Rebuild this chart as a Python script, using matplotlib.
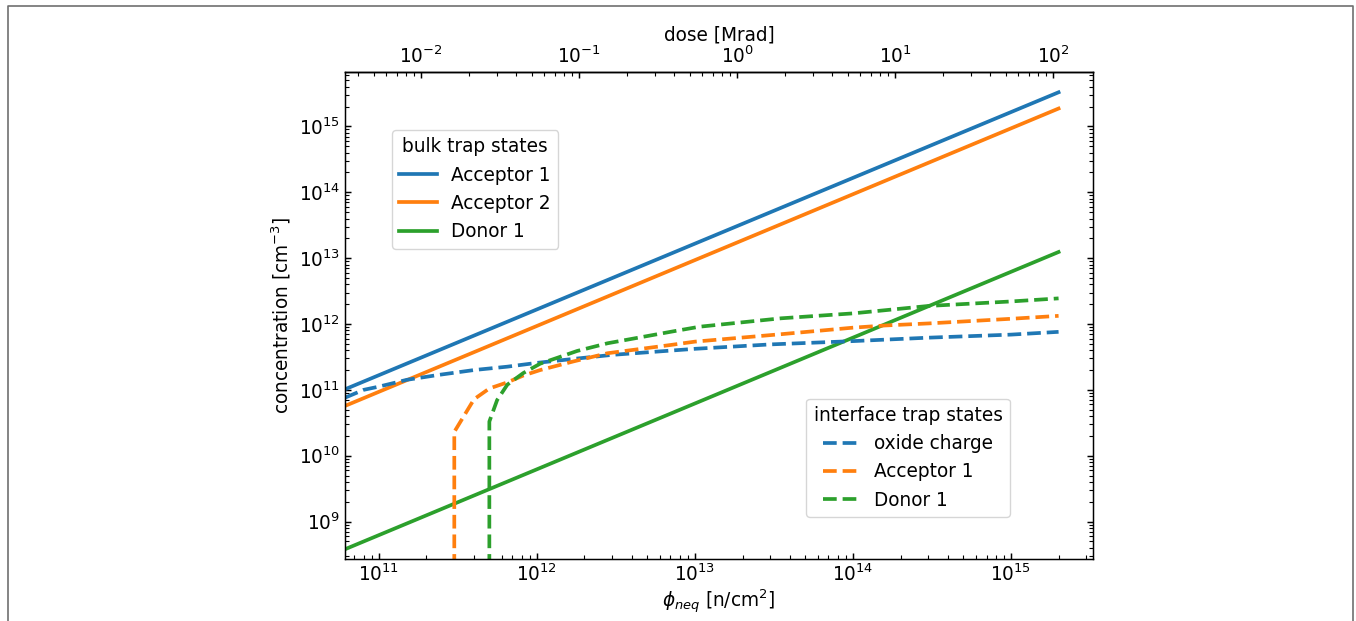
#!/usr/bin/env python3
# -*- coding: utf-8 -*-
""" Bulk and interface trap concentrations versus fluence / dose. """
from __future__ import annotations

import matplotlib

matplotlib.use("Agg")
import matplotlib.pyplot as plt
from matplotlib.lines import Line2D

# fluence phi_neq [n/cm^2] -> dose [Mrad]
PHI_PER_MRAD = 1.85e13

# bulk trap states (straight lines in log-log, read at both ends)
phi_bulk = [6.1e10, 2.0e15]
bulk_acceptor1 = [1.02e11, 3.3e15]
bulk_acceptor2 = [5.7e10, 1.87e15]
bulk_donor1 = [3.8e8, 1.24e13]

# interface trap states
phi_oxide = [6.1e10, 8e10, 1e11, 1.5e11, 2.4e11, 4e11, 6.5e11, 1e12, 1.7e12, 3e12,
             1e13, 3e13, 1e14, 3e14, 1e15, 2e15]
oxide_charge = [7.6e10, 1.0e11, 1.12e11, 1.42e11, 1.69e11, 2.0e11, 2.25e11, 2.57e11,
                2.95e11, 3.4e11, 4.2e11, 4.9e11, 5.5e11, 6.2e11, 6.9e11, 7.6e11]

phi_if_acceptor = [3e11, 3e11, 4e11, 5e11, 6.5e11, 8.2e11, 1.05e12, 1.7e12, 2.8e12,
                   7e12, 1e13, 3.5e13, 1e14, 1.6e14, 3e14, 1e15, 2e15]
if_acceptor1 = [1e8, 2.3e10, 7.2e10, 1.05e11, 1.3e11, 1.65e11, 2.0e11, 2.7e11, 3.6e11,
                4.8e11, 5.4e11, 7.0e11, 8.8e11, 9.5e11, 1.02e12, 1.2e12, 1.33e12]

phi_if_donor = [5e11, 5e11, 5.6e11, 6.5e11, 8.2e11, 1.05e12, 1.8e12, 2.8e12, 7.2e12,
                1.07e13, 3.5e13, 1e14, 3e14, 1e15, 2e15]
if_donor1 = [1e8, 3.3e10, 7e10, 1.2e11, 1.8e11, 2.5e11, 3.9e11, 5.1e11, 7.7e11,
             9.1e11, 1.22e12, 1.45e12, 1.88e12, 2.2e12, 2.45e12]

X_LIMITS = (6.1e10, 3.3e15)
Y_LIMITS = (2.7e8, 6.7e15)


def phi_to_dose(phi):
    return phi / PHI_PER_MRAD


def dose_to_phi(dose):
    return dose * PHI_PER_MRAD


def main() -> int:
    scale = 4.0 / 3.0
    plt.rcParams.update({
        "font.size": 10 * scale,
        "axes.linewidth": 0.8 * scale,
        "xtick.major.size": 3.5 * scale,
        "ytick.major.size": 3.5 * scale,
        "xtick.minor.size": 2.0 * scale,
        "ytick.minor.size": 2.0 * scale,
        "xtick.major.width": 0.8 * scale,
        "ytick.major.width": 0.8 * scale,
        "xtick.minor.width": 0.6 * scale,
        "ytick.minor.width": 0.6 * scale,
        "lines.linewidth": 2.0 * scale,
        "legend.framealpha": 0.8,
    })

    fig = plt.figure(figsize=(13.56, 6.21), dpi=100)
    ax = fig.add_axes([0.2544, 0.0998, 0.5516, 0.7842])

    solid = []
    solid += ax.plot(phi_bulk, bulk_acceptor1, color="C0", label="Acceptor 1")
    solid += ax.plot(phi_bulk, bulk_acceptor2, color="C1", label="Acceptor 2")
    solid += ax.plot(phi_bulk, bulk_donor1, color="C2", label="Donor 1")

    dashed = []
    dashed += ax.plot(phi_oxide, oxide_charge, "--", color="C0", label="oxide charge")
    dashed += ax.plot(phi_if_acceptor, if_acceptor1, "--", color="C1", label="Acceptor 1")
    dashed += ax.plot(phi_if_donor, if_donor1, "--", color="C2", label="Donor 1")

    ax.set_xscale("log")
    ax.set_yscale("log")
    ax.set_xlim(*X_LIMITS)
    ax.set_ylim(*Y_LIMITS)
    ax.set_xlabel(r"$\phi_{neq}$ [n/cm$^2$]", labelpad=2)
    ax.set_ylabel(r"concentration [cm$^{-3}$]")
    ax.tick_params(which="both", direction="in", right=True, top=False)

    top = ax.secondary_xaxis("top", functions=(phi_to_dose, dose_to_phi))
    top.set_xlabel("dose [Mrad]")
    top.tick_params(which="both", direction="in")

    first = ax.legend(handles=solid, title="bulk trap states", loc="upper left",
                      bbox_to_anchor=(0.063, 0.881), borderaxespad=0)
    ax.add_artist(first)
    ax.legend(handles=dashed, title="interface trap states", loc="lower right",
              bbox_to_anchor=(0.889, 0.086), borderaxespad=0)

    # thin grey frame around the figure (bottom edge is cut off)
    w, h = 1356, 621
    fig.add_artist(Line2D([8 / w, 8 / w, 1353 / w, 1353 / w], [0, 1 - 6 / h, 1 - 6 / h, 0],
                          transform=fig.transFigure, color="#707070", lw=1.2))

    fig.savefig("out.png", dpi=100)
    return 0


if __name__ == "__main__":
    raise SystemExit(main())
